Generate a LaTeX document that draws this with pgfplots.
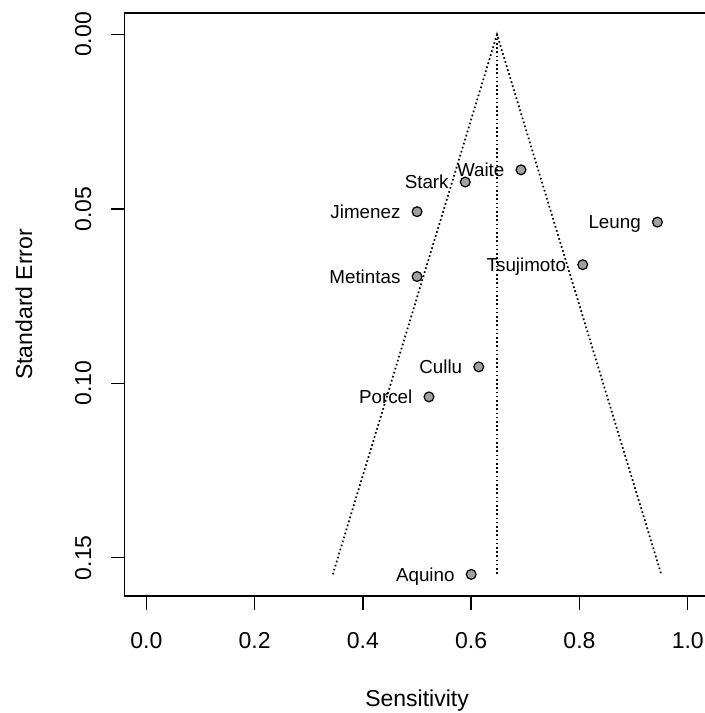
\documentclass[border=0pt]{standalone}
\usepackage{fontspec}
\setmainfont{Liberation Sans}
\usepackage{pgfplots}
\pgfplotsset{compat=1.18}
\usepackage{pgfplotstable}
\definecolor{ptgray}{RGB}{160,160,160}
\pgfplotstableread{
x y label
0.692 0.0388 Waite
0.589 0.0423 Stark
0.500 0.0508 Jimenez
0.944 0.0538 Leung
0.806 0.0660 Tsujimoto
0.500 0.0694 Metintas
0.614 0.0953 Cullu
0.522 0.1039 Porcel
0.600 0.1548 Aquino
}\studies
\pgfplotstableread{
x y
0.3443 0.1548
0.6477 0.0000
0.9511 0.1548
}\funnel
\pgfplotstableread{
x y
0.6477 0.0000
0.6477 0.1548
}\center
\begin{document}
\begin{tikzpicture}
\begin{axis}[
  name=ax,
  scale only axis, width=292.3pt, height=291.5pt,
  xmin=-0.04, xmax=1.04, ymin=-0.00619, ymax=0.16099,
  y dir=reverse,
  axis line style={black, line width=0.7pt},
  xtick={0,0.2,0.4,0.6,0.8,1.0},
  ytick={0,0.05,0.10,0.15},
  tick align=outside, tick pos=left,
  major tick length=6.8pt,
  tick style={black, line width=0.7pt},
  /pgf/number format/assume math mode=true,
  xticklabel style={/pgf/number format/fixed, /pgf/number format/fixed zerofill, /pgf/number format/precision=1,
    anchor=north, inner sep=0pt, font=\fontsize{11.5}{13}\selectfont},
  yticklabel style={/pgf/number format/fixed, /pgf/number format/fixed zerofill, /pgf/number format/precision=2,
    rotate=90, anchor=base, inner sep=0pt, font=\fontsize{11.5}{13}\selectfont},
  xticklabel shift=11pt,
  yticklabel shift=10pt,
  xlabel={Sensitivity},
  ylabel={Standard Error},
  xlabel style={at={(axis description cs:0.5,0)}, anchor=base, inner sep=0pt, yshift=-55pt, font=\fontsize{11.5}{13}\selectfont},
  ylabel style={at={([xshift=-46.35pt]axis description cs:0,0.5)}, anchor=base, inner sep=0pt, font=\fontsize{11.5}{13}\selectfont},
  clip=false,
]
\addplot[black, line width=0.85pt, dash pattern=on 0.85pt off 1.25pt] table[x=x,y=y] {\funnel};
\addplot[black, line width=0.85pt, dash pattern=on 0.85pt off 1.25pt] table[x=x,y=y] {\center};
\addplot[only marks, mark=*, mark size=2.45pt, mark options={fill=ptgray, draw=black, line width=0.6pt},
  nodes near coords, point meta=explicit symbolic,
  every node near coord/.append style={anchor=base east, inner sep=0pt, xshift=-8pt, yshift=-3.4pt,
    font=\fontsize{9.4}{11}\selectfont, black}]
  table[x=x, y=y, meta=label] {\studies};
\end{axis}
\pgfresetboundingbox
\path[use as bounding box] ([xshift=-62.35pt,yshift=-58.5pt]ax.south west) rectangle ([xshift=289.65pt,yshift=6.45pt]ax.north west);
\end{tikzpicture}
\end{document}
